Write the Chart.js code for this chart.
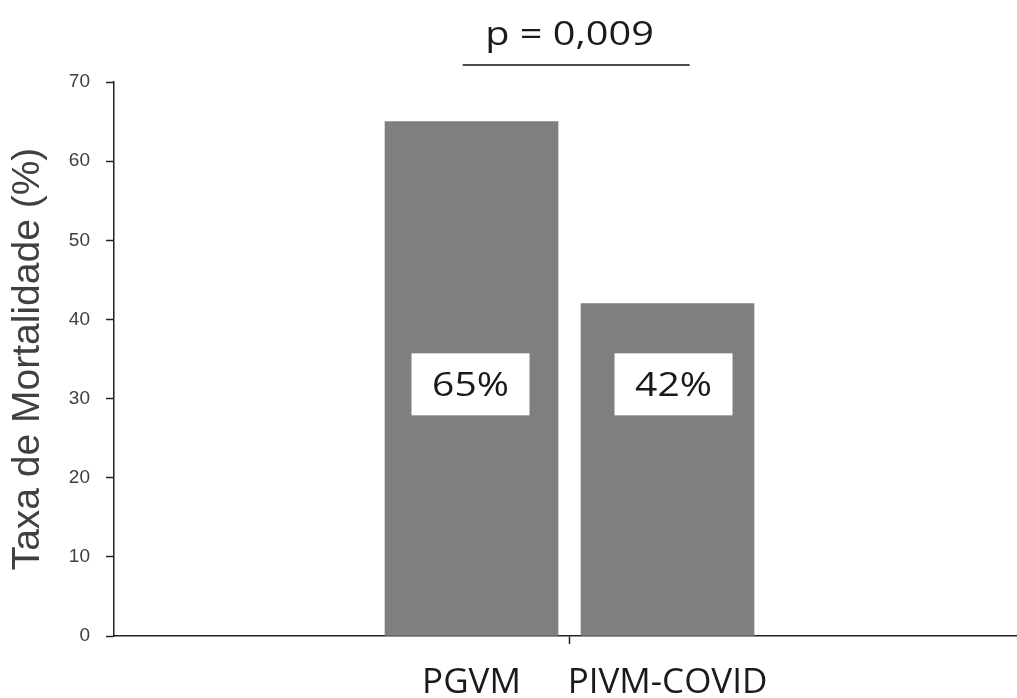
<!DOCTYPE html>
<html>
<head>
<meta charset="utf-8">
<script src="https://cdn.jsdelivr.net/npm/chart.js@4/dist/chart.umd.min.js"></script>
<style>
html,body{margin:0;padding:0;background:#fff;}
#wrap{width:1017px;height:698px;position:relative;}
</style>
</head>
<body>
<div id="wrap"><canvas id="c" width="1017" height="698"></canvas></div>
<script>
// ---- data ----
const categories = ['PGVM', 'PIVM-COVID'];
const mortality = [65, 42];
const yTicks = [0, 10, 20, 30, 40, 50, 60, 70];
const pValueText = 'p = 0,009';
const yTitle = 'Taxa de Mortalidade (%)';

const labelLevel = 31.8;   // value level where the % boxes sit

const dataPoints = mortality.map((v, i) => ({ x: i, y: v }));

const overlayPlugin = {
  id: 'overlay',
  afterDatasetsDraw(chart) {
    const ctx = chart.ctx;
    const xs = chart.scales.x, ys = chart.scales.y;
    const meta = chart.getDatasetMeta(0);
    // percentage boxes
    const yC = ys.getPixelForValue(labelLevel);
    meta.data.forEach((bar, i) => {
      const cx = bar.x + (i === 1 ? 6 : -1);
      const bw = 118, bh = 62;
      ctx.save();
      ctx.fillStyle = '#ffffff';
      ctx.fillRect(cx - bw / 2, yC - bh / 2, bw, bh);
      ctx.translate(cx, yC + 11.5);
      ctx.scale(1.22, 1);
      ctx.font = '32px "Open Sans"';
      ctx.fillStyle = '#1a1a1a';
      ctx.textAlign = 'center';
      ctx.textBaseline = 'alphabetic';
      ctx.fillText(mortality[i] + '%', 0, 0);
      ctx.restore();
    });
    // p-value bracket
    const mid = xs.getPixelForValue(0.5);
    const x1 = xs.getPixelForValue(-0.045);
    const x2 = xs.getPixelForValue(1.113);
    ctx.save();
    ctx.strokeStyle = '#111';
    ctx.lineWidth = 1.5;
    ctx.beginPath();
    ctx.moveTo(x1, 65);
    ctx.lineTo(x2, 65);
    ctx.stroke();
    ctx.translate(mid, 45);
    ctx.scale(1.24, 1);
    ctx.font = '32px "Open Sans"';
    ctx.fillStyle = '#1a1a1a';
    ctx.textAlign = 'center';
    ctx.textBaseline = 'alphabetic';
    ctx.fillText(pValueText, 0, 0);
    ctx.restore();
  }
};

new Chart(document.getElementById('c'), {
  type: 'bar',
  data: {
    datasets: [{
      data: dataPoints,
      backgroundColor: '#7f7f7f',
      borderWidth: 0,
      barThickness: 173
    }]
  },
  options: {
    responsive: false,
    animation: false,
    events: [],
    layout: { padding: { top: 82, left: 0, right: 0, bottom: 0 } },
    plugins: { legend: { display: false }, tooltip: { enabled: false } },
    scales: {
      x: {
        type: 'linear',
        offset: false,
        min: -1.824,
        max: 2.783,
        afterBuildTicks(scale) {
          scale.ticks = [{ value: 0 }, { value: 0.5 }, { value: 1 }];
        },
        afterFit(scale) { scale.height = 62; },
        ticks: {
          autoSkip: false,
          maxRotation: 0,
          padding: 18,
          color: '#1a1a1a',
          font: { family: '"Open Sans"', size: 35 },
          callback(value) {
            return Number.isInteger(value) && categories[value] ? categories[value] : '';
          }
        },
        grid: {
          offset: false,
          drawOnChartArea: false,
          drawTicks: true,
          tickLength: 8,
          tickWidth: 1.5,
          tickColor: (c) => (c.tick && c.tick.value === 0.5) ? '#222' : 'rgba(0,0,0,0)'
        },
        border: { display: true, color: '#222', width: 1.5 }
      },
      y: {
        min: 0,
        max: 70,
        afterBuildTicks(scale) {
          scale.ticks = yTicks.map(v => ({ value: v }));
        },
        afterFit(scale) { scale.width = 114; },
        ticks: {
          padding: 16,
          color: '#404040',
          font: { family: '"Liberation Sans", Arial', size: 19 }
        },
        grid: {
          drawOnChartArea: false,
          drawTicks: true,
          tickLength: 8,
          tickWidth: 1.5,
          tickColor: '#222'
        },
        border: { display: true, color: '#222', width: 1.5 },
        title: {
          display: true,
          text: yTitle,
          color: '#404040',
          font: { family: '"Liberation Sans", Arial', size: 39 },
          padding: { top: 5, bottom: 0 }
        }
      }
    }
  },
  plugins: [overlayPlugin]
});
</script>
</body>
</html>
